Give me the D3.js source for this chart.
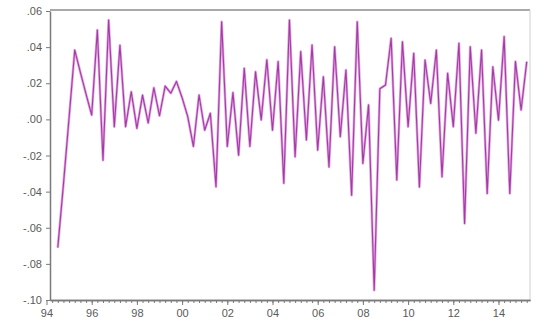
<!DOCTYPE html>
<html>
<head>
<meta charset="utf-8">
<script src="https://cdn.jsdelivr.net/npm/d3@7/dist/d3.min.js"></script>
<style>
  html, body { margin: 0; padding: 0; background: #fff; }
  svg { display: block; }
  .axis text { font-family: "Liberation Sans", Arial, sans-serif; font-size: 11px; fill: #5a5a5a; }
  .axis path, .axis line { stroke: #7a7a7a; }
</style>
</head>
<body>
<svg id="chart" width="533" height="325"></svg>
<script>
// Quarterly growth rate, 1994Q3 - 2015Q2
const startYear = 1994;
const startQuarter = 3;
const growth = [
  -0.071, -0.036, 0.001, 0.0384, 0.026, 0.014, 0.0024,           // 1994Q3-1996Q1
  0.0495, -0.0226, 0.055, -0.004, 0.041, -0.004, 0.0153, -0.005, // 1996Q2-1998Q1
  0.0134, -0.002, 0.0175, 0.002, 0.0184, 0.0145, 0.021, 0.012,   // 1998Q2-2000Q1
  0.0015, -0.015, 0.0135, -0.006, 0.0034, -0.0373, 0.054, -0.015, // 2000Q2-2002Q1
  0.0148, -0.0198, 0.0283, -0.015, 0.0263, -0.0003, 0.033, -0.006, // 2002Q2-2004Q1
  0.032, -0.0353, 0.055, -0.0207, 0.0375, -0.0114, 0.0412, -0.017, // 2004Q2-2006Q1
  0.0236, -0.0263, 0.0402, -0.0096, 0.0273, -0.042, 0.054, -0.0244, // 2006Q2-2008Q1
  0.008, -0.0946, 0.017, 0.019, 0.0449, -0.0336, 0.043, -0.004,   // 2008Q2-2010Q1
  0.0366, -0.0374, 0.0329, 0.0088, 0.0384, -0.0318, 0.0255, -0.004, // 2010Q2-2012Q1
  0.0421, -0.0576, 0.0402, -0.0077, 0.0384, -0.041, 0.0291, -0.0004, // 2012Q2-2014Q1
  0.0458, -0.041, 0.032, 0.0052, 0.032                            // 2014Q2-2015Q2
];

const xTickYears  = [1994, 1996, 1998, 2000, 2002, 2004, 2006, 2008, 2010, 2012, 2014];
const xTickLabels = ["94", "96", "98", "00", "02", "04", "06", "08", "10", "12", "14"];
const yTicks      = [0.06, 0.04, 0.02, 0.00, -0.02, -0.04, -0.06, -0.08, -0.10];
const yTickLabels = [".06", ".04", ".02", ".00", "-.02", "-.04", "-.06", "-.08", "-.10"];

const plot = { left: 50, right: 530, top: 11, bottom: 300 };

// each observation sits at the start of its quarter
const series = growth.map((v, i) => ({
  date: startYear + (startQuarter - 1 + i) / 4,
  value: v
}));

const x = d3.scaleLinear()
  .domain([1994.155, 2015.394])
  .range([plot.left, plot.right]);

const y = d3.scaleLinear()
  .domain([-0.10, 0.06])
  .range([plot.bottom, plot.top]);

const svg = d3.select("#chart");

// frame: top and right edges
svg.append("line")
  .attr("x1", plot.left).attr("x2", plot.right)
  .attr("y1", plot.top - 1).attr("y2", plot.top - 1)
  .attr("stroke", "#8c8c8c").attr("stroke-width", 1.5);
svg.append("line")
  .attr("x1", plot.right).attr("x2", plot.right)
  .attr("y1", plot.top - 1).attr("y2", plot.bottom)
  .attr("stroke", "#d0d0d0").attr("stroke-width", 1);

// left axis
const yLabel = new Map(yTicks.map((t, i) => [t, yTickLabels[i]]));
svg.append("g")
  .attr("class", "axis")
  .attr("transform", `translate(${plot.left},0)`)
  .call(d3.axisLeft(y)
    .tickValues(yTicks)
    .tickSize(4)
    .tickPadding(4)
    .tickSizeOuter(0)
    .tickFormat(d => yLabel.get(d)));

// bottom axis: quarterly minor ticks
const quarterTicks = d3.range(1994.25, 2015.3, 0.25);
svg.append("g")
  .attr("class", "axis minor")
  .attr("transform", `translate(0,${plot.bottom})`)
  .call(d3.axisBottom(x)
    .tickValues(quarterTicks)
    .tickSize(3)
    .tickSizeOuter(0)
    .tickFormat(""));

// bottom axis: year labels
const xLabel = new Map(xTickYears.map((t, i) => [t, xTickLabels[i]]));
svg.append("g")
  .attr("class", "axis")
  .attr("transform", `translate(0,${plot.bottom})`)
  .call(d3.axisBottom(x)
    .tickValues(xTickYears)
    .tickSize(5)
    .tickPadding(4)
    .tickSizeOuter(0)
    .tickFormat(d => xLabel.get(d)));

svg.selectAll(".axis .domain").attr("stroke", "#7a7a7a").attr("stroke-width", 1.5);

// growth line
const line = d3.line()
  .x(d => x(d.date))
  .y(d => y(d.value));

svg.append("path")
  .datum(series)
  .attr("fill", "none")
  .attr("stroke", "#e2a6e2")
  .attr("stroke-width", 2.6)
  .attr("stroke-linejoin", "round")
  .attr("d", line);

svg.append("path")
  .datum(series)
  .attr("fill", "none")
  .attr("stroke", "#a43ba4")
  .attr("stroke-width", 1.1)
  .attr("stroke-linejoin", "round")
  .attr("d", line);
</script>
</body>
</html>
